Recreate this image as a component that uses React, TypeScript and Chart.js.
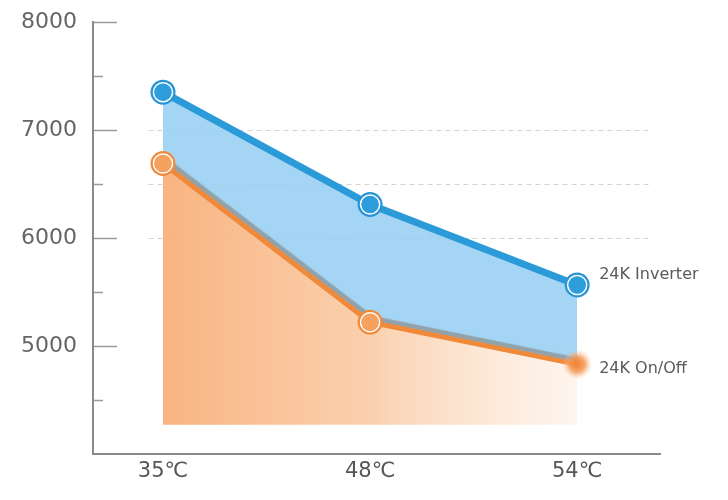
import React, { useEffect, useRef } from "react";
import { Chart, registerables } from "chart.js";

Chart.register(...registerables);

const categories = ["35℃", "48℃", "54℃"];
const inverterValues = [7350, 6310, 5565];
const onOffValues = [6690, 5220, 4830];
const seriesNames = ["24K Inverter", "24K On/Off"];
const yLabeledTicks = [5000, 6000, 7000, 8000];
const dashedGridValues = [6000, 6500, 7000];
const fillBaseValue = 4270;
const yMin = 4000;
const yMax = 8000;
const yStep = 500;

const BLUE = "#2b9ad9";
const ORANGE = "#f08a3a";
const FONT = "'DejaVu Sans', sans-serif";

const decorPlugin = {
  id: "decor",
  beforeDatasetsDraw(chart: any) {
    const { ctx, chartArea, scales } = chart;
    const y = scales.y;
    const x = scales.x;
    ctx.save();
    ctx.strokeStyle = "rgba(205,200,196,0.8)";
    ctx.lineWidth = 1;
    ctx.setLineDash([5, 4]);
    dashedGridValues.forEach((v) => {
      const py = Math.round(y.getPixelForValue(v)) + 0.5;
      ctx.beginPath();
      ctx.moveTo(x.getPixelForValue(-0.07), py);
      ctx.lineTo(x.getPixelForValue(2.35), py);
      ctx.stroke();
    });
    ctx.setLineDash([]);
    ctx.strokeStyle = "#a09a96";
    ctx.lineWidth = 1.5;
    for (let v = yMin + yStep; v <= yMax; v += yStep) {
      const py = Math.round(y.getPixelForValue(v)) + 0.5;
      const major = v % 1000 === 0;
      ctx.beginPath();
      ctx.moveTo(chartArea.left + 1, py);
      ctx.lineTo(chartArea.left + (major ? 24 : 10), py);
      ctx.stroke();
    }
    ctx.restore();
  },
  beforeDatasetDraw(chart: any, args: any) {
    if (args.index === 1) {
      const ctx = chart.ctx;
      ctx.save();
      ctx.shadowColor = "rgba(130,120,110,0.55)";
      ctx.shadowOffsetX = 2;
      ctx.shadowOffsetY = -4;
      ctx.shadowBlur = 1;
    }
  },
  afterDatasetDraw(chart: any, args: any) {
    if (args.index === 1) chart.ctx.restore();
  },
  afterDatasetsDraw(chart: any) {
    const { ctx } = chart;
    const drawMarker = (px: number, py: number, color: string, inner: string) => {
      ctx.beginPath();
      ctx.arc(px, py, 12.5, 0, Math.PI * 2);
      ctx.fillStyle = color;
      ctx.fill();
      ctx.beginPath();
      ctx.arc(px, py, 9.5, 0, Math.PI * 2);
      ctx.strokeStyle = "#ffffff";
      ctx.lineWidth = 1.6;
      ctx.stroke();
      ctx.beginPath();
      ctx.arc(px, py, 8.5, 0, Math.PI * 2);
      ctx.fillStyle = inner;
      ctx.fill();
    };
    ctx.save();
    const blueMeta = chart.getDatasetMeta(0);
    blueMeta.data.forEach((pt: any) => drawMarker(pt.x, pt.y, "#2a95d6", "#2d9ddc"));
    const orangeMeta = chart.getDatasetMeta(1);
    orangeMeta.data.forEach((pt: any, i: number) => {
      if (i === orangeMeta.data.length - 1) {
        const g = ctx.createRadialGradient(pt.x, pt.y, 0, pt.x, pt.y, 15);
        g.addColorStop(0, "rgba(240,130,50,1)");
        g.addColorStop(0.5, "rgba(243,150,80,0.85)");
        g.addColorStop(1, "rgba(250,200,160,0)");
        ctx.beginPath();
        ctx.arc(pt.x, pt.y, 15, 0, Math.PI * 2);
        ctx.fillStyle = g;
        ctx.fill();
      } else {
        drawMarker(pt.x, pt.y, "#f08b3c", "#f5a260");
      }
    });
    ctx.font = `16px ${FONT}`;
    ctx.fillStyle = "#5a5a5a";
    ctx.textBaseline = "middle";
    ctx.textAlign = "left";
    const bl = blueMeta.data[blueMeta.data.length - 1];
    const ol = orangeMeta.data[orangeMeta.data.length - 1];
    ctx.fillText(seriesNames[0], bl.x + 22, bl.y - 10);
    ctx.fillText(seriesNames[1], ol.x + 22, ol.y + 4);
    ctx.restore();
  },
};

export default function App() {
  const ref = useRef<HTMLCanvasElement>(null);
  useEffect(() => {
    if (!ref.current) return;
    const chart = new Chart(ref.current, {
      type: "line",
      data: {
        datasets: [
          {
            label: seriesNames[0],
            data: inverterValues.map((v, i) => ({ x: i, y: v })),
            borderColor: BLUE,
            borderWidth: 7,
            backgroundColor: "rgba(148,206,242,0.85)",
            fill: 1,
            pointRadius: 0,
            tension: 0,
            order: 1,
          },
          {
            label: seriesNames[1],
            data: onOffValues.map((v, i) => ({ x: i, y: v })),
            borderColor: ORANGE,
            borderWidth: 5,
            backgroundColor: (c: any) => {
              const ca = c.chart.chartArea;
              if (!ca) return "rgba(248,175,120,0.8)";
              const g = c.chart.ctx.createLinearGradient(ca.left + 70, 0, ca.left + 485, 0);
              g.addColorStop(0, "rgba(248,176,122,0.95)");
              g.addColorStop(0.5, "rgba(250,200,160,0.85)");
              g.addColorStop(1, "rgba(253,236,222,0.5)");
              return g;
            },
            fill: { value: fillBaseValue },
            pointRadius: 0,
            tension: 0,
            order: 0,
          },
        ],
      },
      options: {
        animation: false,
        responsive: false,
        maintainAspectRatio: false,
        layout: { padding: { left: 0, top: 22, right: 68, bottom: 0 } },
        plugins: { legend: { display: false }, tooltip: { enabled: false } },
        scales: {
          x: {
            type: "linear",
            min: -0.338,
            max: 2.4,
            afterBuildTicks: (s: any) => {
              s.ticks = categories.map((_, i) => ({ value: i }));
            },
            afterFit: (s: any) => {
              s.height = 46;
              s.paddingLeft = 0;
              s.paddingRight = 0;
            },
            grid: { display: false, drawTicks: false },
            border: { display: true, color: "#8a8a8a", width: 2 },
            ticks: {
              padding: 5,
              color: "#555555",
              font: { family: FONT, size: 21 },
              callback: (v: any) => categories[v] ?? "",
              maxRotation: 0,
            },
          },
          y: {
            min: yMin,
            max: yMax,
            afterFit: (s: any) => {
              s.width = 93;
              s.paddingTop = 0;
              s.paddingBottom = 0;
            },
            grid: { display: false, drawTicks: false },
            border: { display: true, color: "#8a8a8a", width: 2 },
            ticks: {
              stepSize: yStep,
              padding: 16,
              color: "#666666",
              font: { family: FONT, size: 22 },
              callback: (v: any) => (yLabeledTicks.includes(v) ? String(v) : ""),
            },
          },
        },
      },
      plugins: [decorPlugin],
    } as any);
    return () => chart.destroy();
  }, []);
  return (
    <div style={{ position: "fixed", left: 0, top: 0, width: 728, height: 500, background: "#fff" }}>
      <canvas ref={ref} width={728} height={500} style={{ width: 728, height: 500 }} />
    </div>
  );
}
